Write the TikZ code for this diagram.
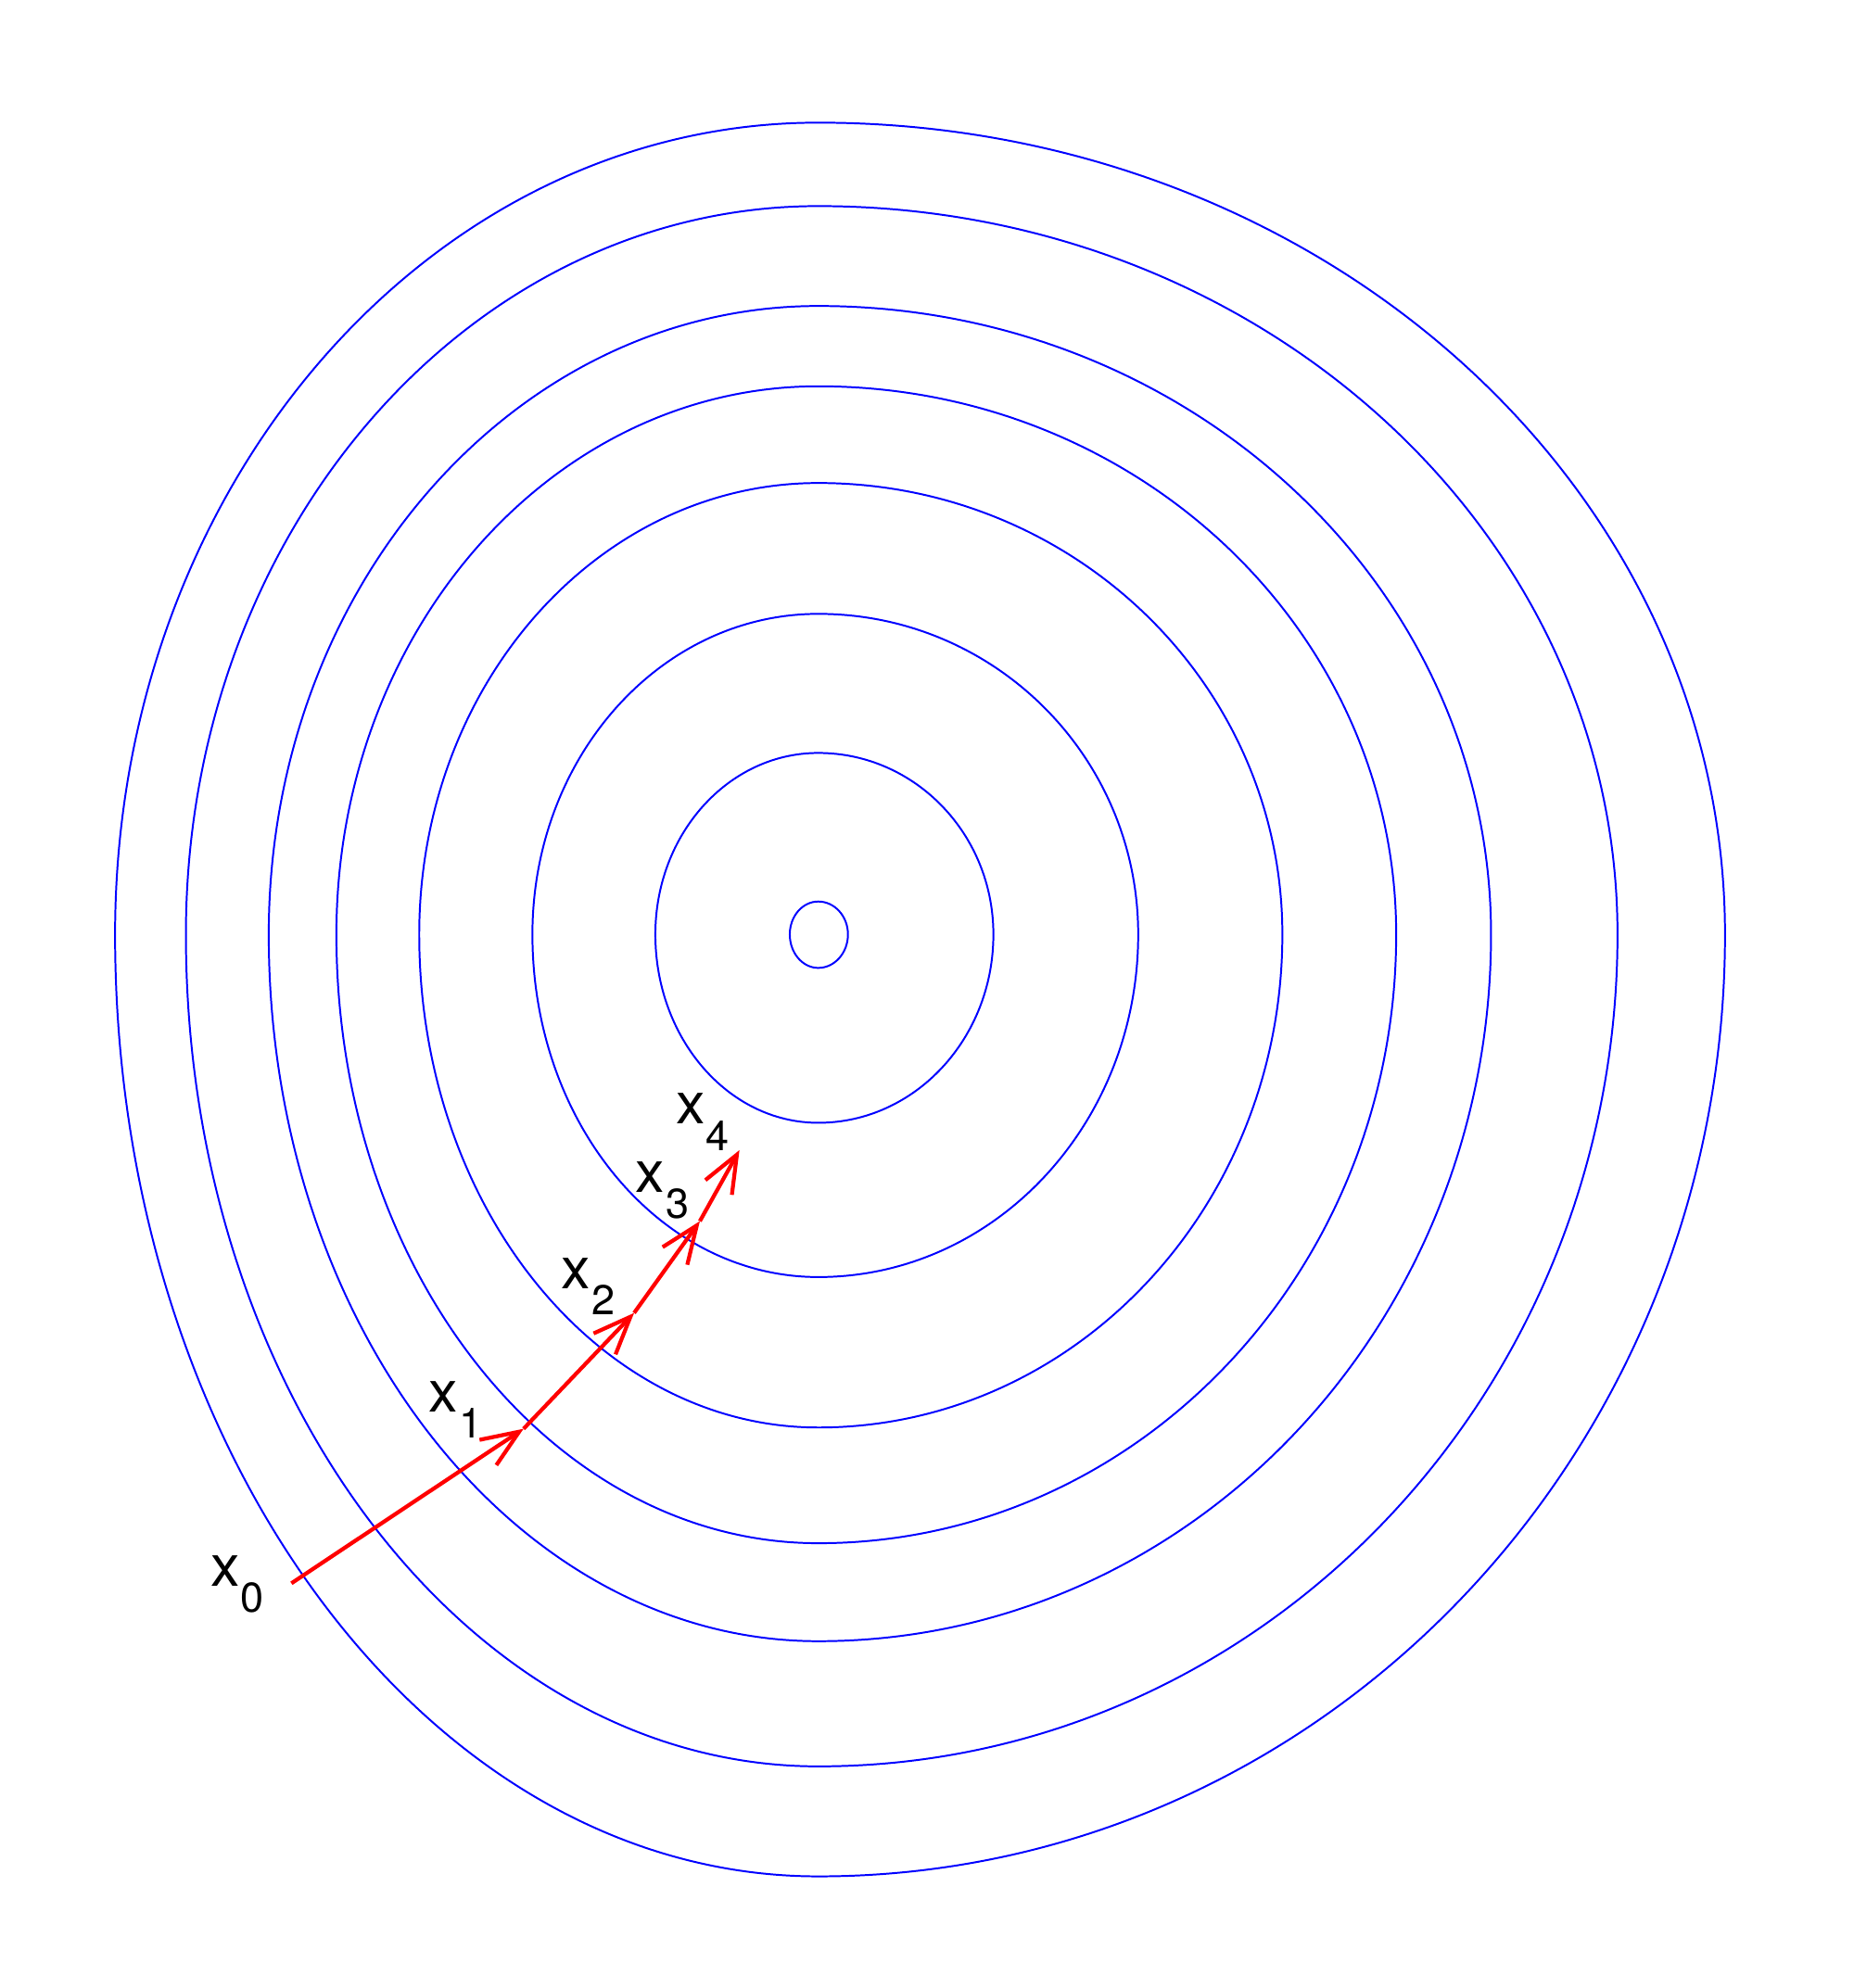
\documentclass[tikz,border=0pt]{standalone}
\usepackage{fontspec}
\setmainfont{TeX Gyre Heros}
\usetikzlibrary{arrows.meta}
% closed egg-shaped level curve made of four quarter ellipses: #1 left, #2 right, #3 top, #4 bottom radius
\newcommand{\eggcontour}[4]{%
  \draw[contour] ({647+#2},739)
    arc[start angle=0,end angle=90,x radius=#2,y radius=#4]
    arc[start angle=90,end angle=180,x radius=#1,y radius=#4]
    arc[start angle=180,end angle=270,x radius=#1,y radius=#3]
    arc[start angle=270,end angle=360,x radius=#2,y radius=#3] -- cycle;}
\newcommand{\iterlabel}[1]{x\kern1pt\raisebox{-21pt}{\fontsize{33}{36}\selectfont #1}}
\begin{document}
\begin{tikzpicture}[x=1pt,y=-1pt,
  contour/.style={draw=blue,line width=1.45pt},
  descent/.style={draw=red,line width=3.1pt,line cap=butt,
    -{Straight Barb[length=29.7pt,width=24pt,line width=3.1pt]}},
  iterlab/.style={anchor=base west,inner sep=0pt,outer sep=0pt,
    font=\fontsize{46}{50}\selectfont}]
\useasboundingbox (0,0) rectangle (1466,1572.3);

% level curves
\eggcontour{556}{717}{642}{745}
\eggcontour{500}{632}{576}{658}
\eggcontour{434.5}{532}{497}{559}
\eggcontour{381}{457}{433.5}{481.5}
\eggcontour{315.5}{367}{357}{390}
\eggcontour{226}{253}{253.5}{271}
\eggcontour{128.8}{138.5}{143.5}{149}
\eggcontour{22.5}{23.5}{26}{26.5}

% iterates
\coordinate (p0) at (230.4,1252.2);
\coordinate (p1) at (414,1130);
\coordinate (p2) at (501.4,1038.4);
\coordinate (p3) at (553.4,965.8);
\coordinate (p4) at (584.7,909.6);

\draw[descent] (p0) -- (p1);
\draw[descent] (p1) -- (p2);
\draw[descent] (p2) -- (p3);
\draw[descent] (p3) -- (p4);

% labels
\node[iterlab] (l0) at (166.5,1254.3) {\iterlabel{0}};
\node[iterlab] (l1) at (339.1,1116.6) {\iterlabel{1}};
\node[iterlab] (l2) at (443.7,1018.9) {\iterlabel{2}};
\node[iterlab] (l3) at (502.8,942.7) {\iterlabel{3}};
\node[iterlab] (l4) at (534.5,888.9) {\iterlabel{4}};
\end{tikzpicture}
\end{document}
